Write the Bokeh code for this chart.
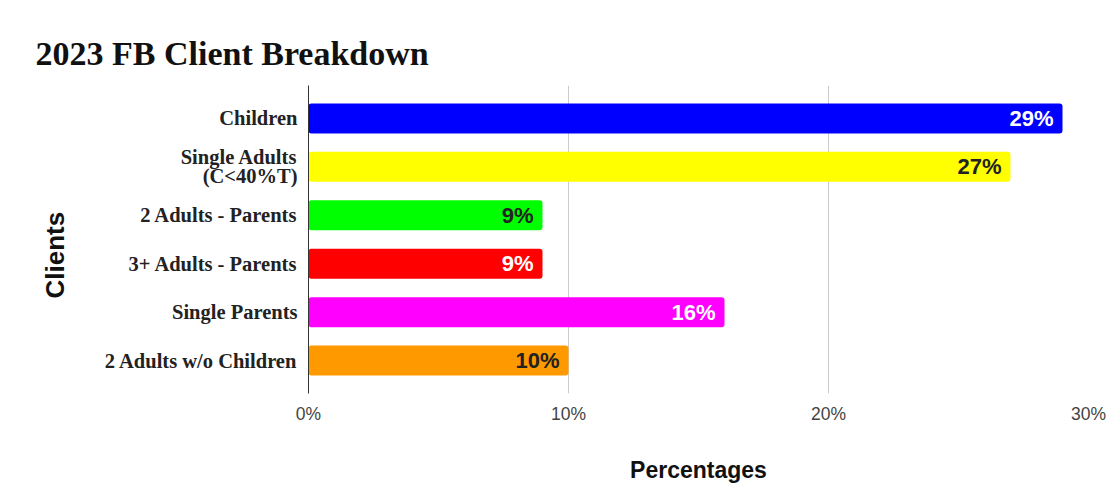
from bokeh.plotting import figure
from bokeh.models import ColumnDataSource, FactorRange, Range1d, FixedTicker, PrintfTickFormatter, Title
from bokeh.core.properties import value
from bokeh.embed import file_html
from bokeh.resources import INLINE

categories = ["Children", "Single Adults\n(C<40%T)", "2 Adults - Parents",
              "3+ Adults - Parents", "Single Parents", "2 Adults w/o Children"]
percentages = [29, 27, 9, 9, 16, 10]
bar_colors = ["#0000ff", "#ffff00", "#00ff00", "#ff0000", "#ff00ff", "#ff9900"]
label_colors = ["#ffffff", "#222222", "#222222", "#ffffff", "#ffffff", "#222222"]
x_ticks = [0, 10, 20, 30]
bar_labels = [f"{v}%" for v in percentages]

source = ColumnDataSource(dict(cat=categories, val=percentages, color=bar_colors,
                               lcolor=label_colors, label=bar_labels))

p = figure(width=1107, height=500,
           y_range=FactorRange(factors=list(reversed(categories)), range_padding=0.18,
                               range_padding_units="absolute"),
           x_range=Range1d(0, 30),
           output_backend="svg", toolbar_location=None,
           min_border_left=308, min_border_right=19, min_border_top=85, min_border_bottom=107)

p.hbar(y="cat", left=0, right="val", height=0.62, color="color", source=source,
       line_color=None, border_radius=3)
p.text(x="val", y="cat", text="label", source=source, text_align="right",
       text_baseline="middle", x_offset=-9, text_color="lcolor",
       text_font=value("Liberation Sans"), text_font_style="bold", text_font_size="22px")

p.outline_line_color = None
p.ygrid.visible = False
p.xgrid.ticker = FixedTicker(ticks=x_ticks)
p.xgrid.grid_line_color = "#cccccc"

p.xaxis.ticker = FixedTicker(ticks=x_ticks)
p.xaxis.formatter = PrintfTickFormatter(format="%d%%")
p.xaxis.axis_line_color = None
p.xaxis.major_tick_line_color = None
p.xaxis.minor_tick_line_color = None
p.xaxis.major_label_text_font = "Liberation Sans"
p.xaxis.major_label_text_font_size = "17.5px"
p.xaxis.major_label_text_color = "#444444"
p.xaxis.major_label_standoff = 4
p.xaxis.axis_label = "Percentages"
p.xaxis.axis_label_text_font = "Liberation Sans"
p.xaxis.axis_label_text_font_style = "bold"
p.xaxis.axis_label_text_font_size = "23px"
p.xaxis.axis_label_text_color = "#111111"
p.xaxis.axis_label_standoff = 30

p.yaxis.axis_line_color = "#333333"
p.yaxis.major_tick_line_color = None
p.yaxis.minor_tick_line_color = None
p.yaxis.major_label_text_font = "Liberation Serif"
p.yaxis.major_label_text_font_style = "bold"
p.yaxis.major_label_text_font_size = "20.5px"
p.yaxis.major_label_text_color = "#222222"
p.yaxis.major_label_text_line_height = 0.86
p.yaxis.major_label_standoff = 5

y_title = Title(text="Clients", align="left", offset=95, standoff=64,
                text_font="Liberation Sans", text_font_style="bold",
                text_font_size="26px", text_color="#111111")
p.add_layout(y_title, "left")

p.title.text = "2023 FB Client Breakdown"
p.title.text_font = "Liberation Serif"
p.title.text_font_style = "bold"
p.title.text_font_size = "34px"
p.title.text_color = "#111111"
p.title.offset = -273
p.title.standoff = 27

open("out.html", "w").write(file_html(p, INLINE))
